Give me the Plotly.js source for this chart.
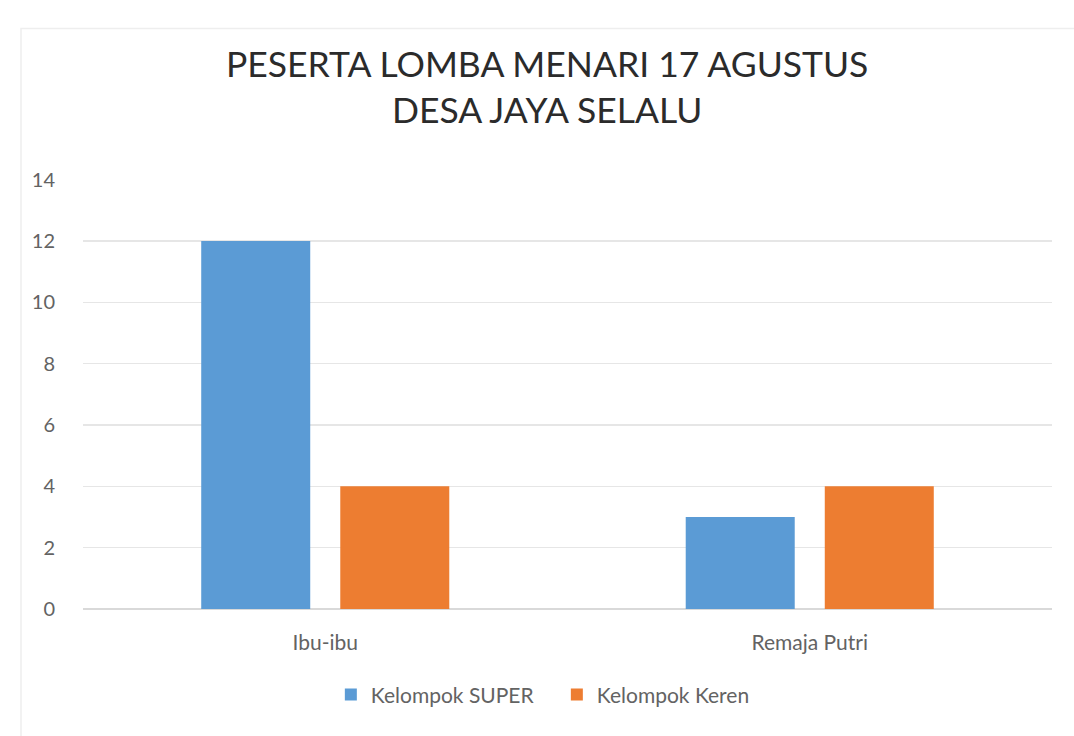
<!DOCTYPE html>
<html>
<head>
<meta charset="utf-8">
<script src="https://cdn.plot.ly/plotly-3.0.1.min.js"></script>
<style>html,body{margin:0;padding:0;background:#fff;}#chart{width:1074px;height:736px;}</style>
</head>
<body>
<div id="chart"></div>
<script>
const categories = ["Ibu-ibu", "Remaja Putri"];
const seriesNames = ["Kelompok SUPER", "Kelompok Keren"];
const superValues = [12, 3];
const kerenValues = [4, 4];
const yTicks = [0, 2, 4, 6, 8, 10, 12, 14];

const traces = [
  {type: "bar", name: seriesNames[0], x: categories, y: superValues,
   marker: {color: "#5b9bd5"}, hoverinfo: "x+y+name"},
  {type: "bar", name: seriesNames[1], x: categories, y: kerenValues,
   marker: {color: "#ed7d31"}, hoverinfo: "x+y+name"}
];

const layout = {
  width: 1074, height: 736,
  paper_bgcolor: "#fff", plot_bgcolor: "#fff",
  margin: {l: 83, r: 22, t: 179, b: 127},
  font: {family: "Lato, 'Open Sans', sans-serif", color: "#636363", size: 20},
  title: {
    text: "PESERTA LOMBA MENARI 17 AGUSTUS<br>DESA JAYA SELALU",
    font: {family: "Lato, 'Open Sans', sans-serif", size: 35.5, color: "#2b2b2b"},
    x: 0.5095, xanchor: "center", xref: "container", y: 0.896, yanchor: "top"
  },
  barmode: "group",
  bargap: 0.426,
  bargroupgap: 0.216,
  xaxis: {
    showgrid: false, showline: false, zeroline: false, ticks: "",
    ticklabelstandoff: 19,
    tickfont: {size: 21, color: "#636363"}
  },
  yaxis: {
    range: [0, 14.02], tickvals: yTicks, ticktext: yTicks.map(String),
    showgrid: true, gridcolor: "#e6e6e6", gridwidth: 1.5,
    zeroline: true, zerolinecolor: "#d9d9d9", zerolinewidth: 1.5,
    showline: false, ticks: "", ticklen: 0,
    ticklabelstandoff: 27,
    tickfont: {size: 20, color: "#636363"}
  },
  showlegend: true,
  legend: {
    orientation: "h", x: 0.489, xanchor: "center", y: -0.152, yanchor: "top",
    font: {size: 21, color: "#636363"}, itemwidth: 30, traceorder: "normal",
    entrywidth: 181, entrywidthmode: "pixels"
  },
  shapes: [
    {type: "rect", xref: "paper", yref: "paper",
     x0: -0.064, x1: 1.2, y0: -0.5, y1: 1.35,
     line: {color: "#eeeeee", width: 1.5}, fillcolor: "rgba(0,0,0,0)", layer: "below"}
  ]
};

Plotly.newPlot("chart", traces, layout, {displayModeBar: false, staticPlot: true});
</script>
</body>
</html>
